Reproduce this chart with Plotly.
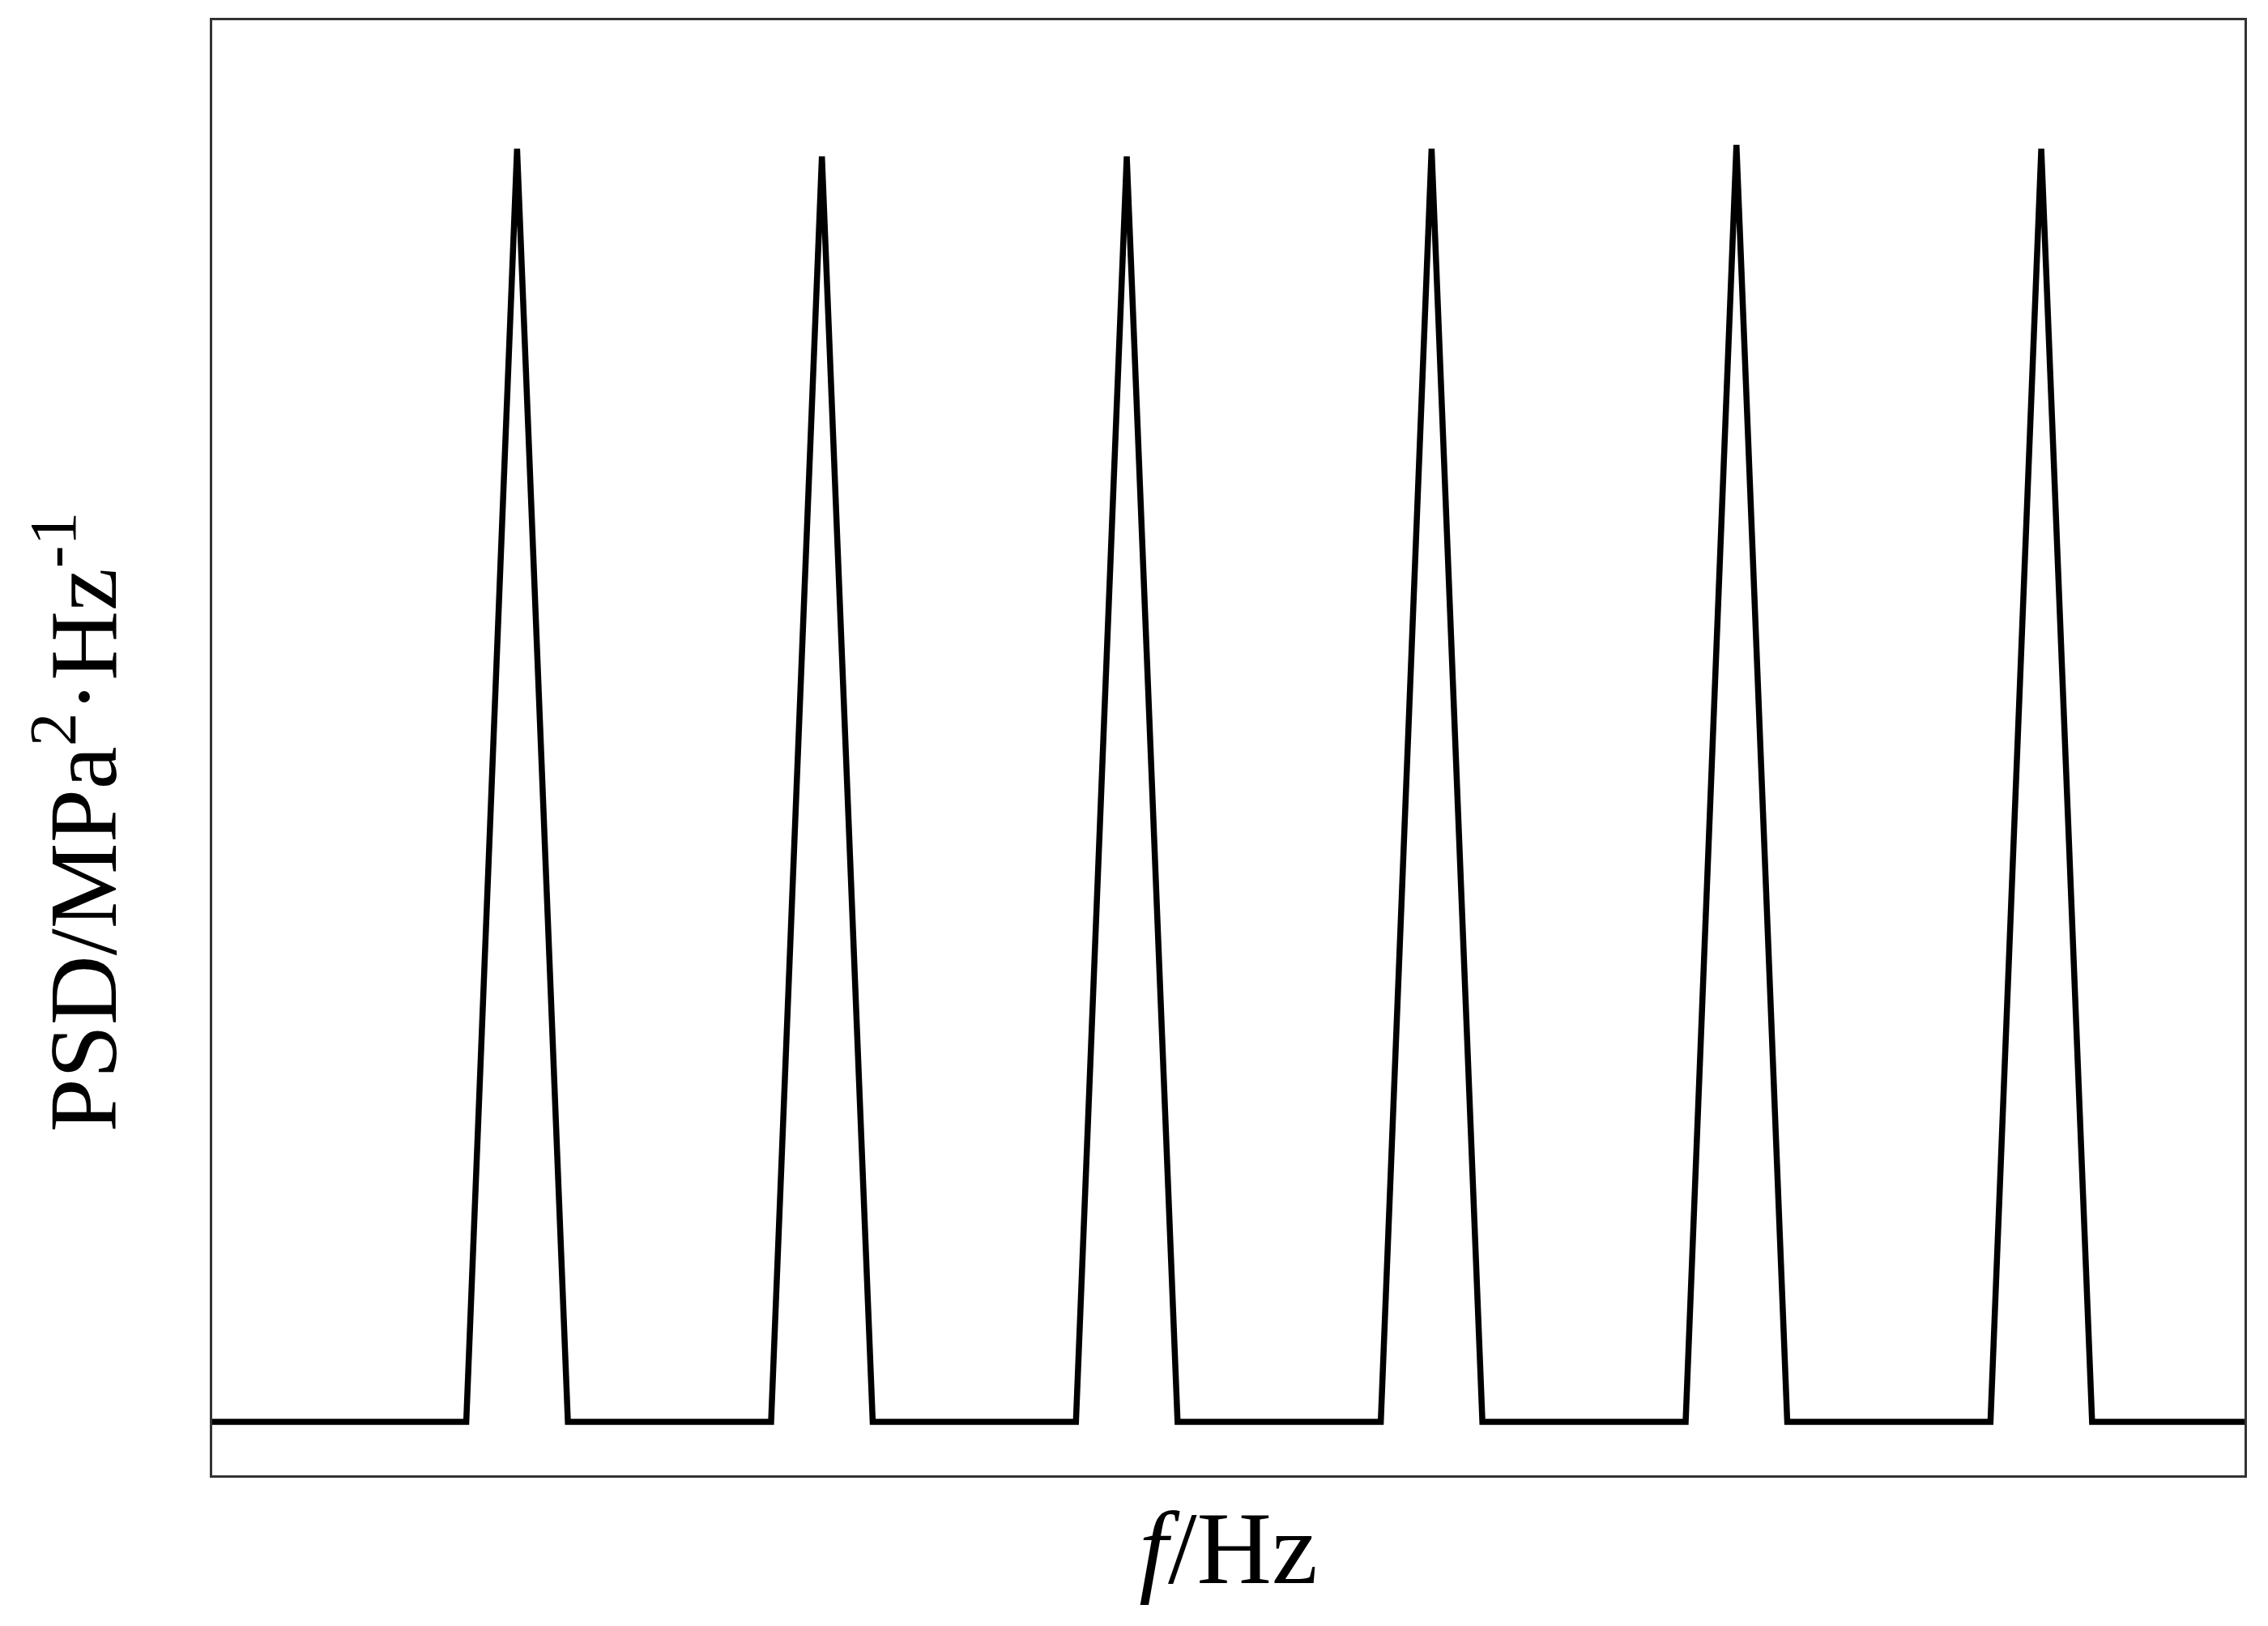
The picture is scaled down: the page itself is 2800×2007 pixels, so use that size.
import plotly.graph_objects as go

# frequency (Hz) and PSD (normalised)
freq = [0, 5, 6, 7, 11, 12, 13, 17, 18, 19, 23, 24, 25, 29, 30, 31, 35, 36, 37, 40]
psd = [0, 0, 1.0, 0, 0, 0.994, 0, 0, 0.994, 0, 0, 1.0, 0, 0, 1.003, 0, 0, 1.0, 0, 0]

x_title = "<i>f</i>/Hz"
y_title = "PSD/MPa<sup>2</sup>·Hz<sup>-1</sup>"

fig = go.Figure()
fig.add_trace(go.Scatter(x=freq, y=psd, mode="lines", line=dict(color="black", width=7.5), showlegend=False))

fig.update_layout(
    width=2784,
    height=1991,
    plot_bgcolor="white",
    paper_bgcolor="white",
    margin=dict(l=254, r=21, t=17, b=178),
    font=dict(family="Liberation Serif", color="black"),
)
fig.update_xaxes(
    range=[0, 40],
    showline=True,
    mirror=True,
    linecolor="#333333",
    linewidth=3,
    showgrid=False,
    zeroline=False,
    showticklabels=False,
    ticks="",
    title=dict(text=x_title, font=dict(size=128), standoff=42),
)
fig.update_yaxes(
    range=[-0.042, 1.101],
    showline=True,
    mirror=True,
    linecolor="#333333",
    linewidth=3,
    showgrid=False,
    zeroline=False,
    showticklabels=False,
    ticks="",
)
fig.add_annotation(
    text=y_title,
    xref="paper",
    yref="paper",
    x=-0.067,
    y=0.449,
    xanchor="center",
    yanchor="middle",
    textangle=-90,
    showarrow=False,
    font=dict(size=119),
)

fig.write_html("out.html")
